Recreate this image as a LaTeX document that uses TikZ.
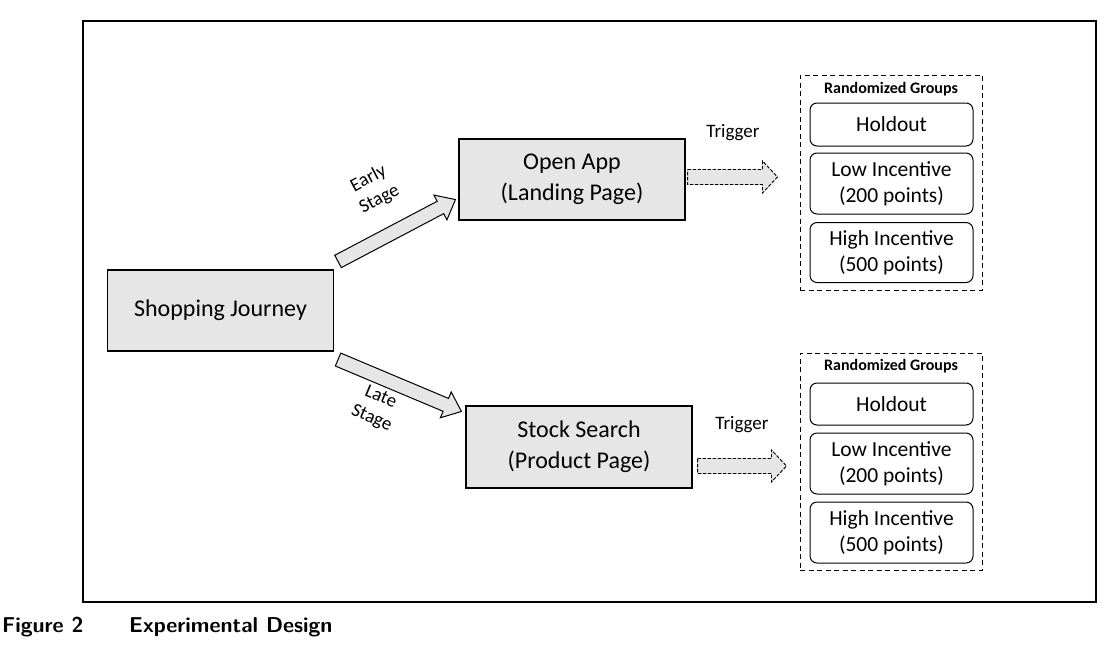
\documentclass[tikz,border=0pt]{standalone}
\usepackage{fontspec}
\setmainfont{Carlito}
\usetikzlibrary{calc}
\definecolor{boxgray}{RGB}{230,230,230}
\newcommand\fatarrow[6][]{%
  \coordinate (fa-b) at ($(#3)!#6!(#2)$);
  \draw[#1] ($(#2)!#4!90:(#3)$) -- ($(fa-b)!#4!90:(#3)$) -- ($(fa-b)!#5!90:(#3)$) -- (#3)
    -- ($(fa-b)!#5!-90:(#3)$) -- ($(fa-b)!#4!-90:(#3)$) -- ($(#2)!#4!-90:(#3)$) -- cycle;
}
\begin{document}
\begin{tikzpicture}[x=1pt,y=-1pt,
  box/.style={draw, line width=1.1pt, fill=boxgray, align=center, inner sep=0pt,
    minimum width=226pt, minimum height=81pt, font=\fontsize{24}{31}\selectfont},
  grp/.style={draw, line width=1pt, rounded corners=7pt, align=center, inner sep=0pt,
    minimum width=163pt, font=\fontsize{21.5}{26}\selectfont},
  grpframe/.style={draw, dash pattern=on 5pt off 3.5pt, line width=1pt,
    minimum width=182pt, inner sep=0pt},
  grphead/.style={font=\fontsize{16}{18}\selectfont\bfseries, inner sep=0pt},
  fat/.style={draw, line width=1pt, fill=boxgray, line join=miter},
  trig/.style={draw, line width=0.9pt, dash pattern=on 3.5pt off 1.5pt, fill=boxgray},
  lbl/.style={align=center, inner sep=0pt, font=\fontsize{19}{23}\selectfont},
  captxt/.style={anchor=base west, inner sep=0pt, font=\sffamily\bfseries\fontsize{21.5}{24}\selectfont}
]
\useasboundingbox (0,0) rectangle (1111,648);
% outer frame
\draw[line width=1.2pt] (83,21) rectangle (1096,602);

% main boxes
\node[box] (sj) at (220.5,310.5) {Shopping Journey};
\node[box] (oa) at (572,179.5) {Open App\\(Landing Page)};
\node[box, minimum height=82pt] (ss) at (579,447) {Stock Search\\(Product Page)};

% stage arrows
\fatarrow[fat]{$(sj.north east)+(4,-8)$}{$(oa.south west)+(-3,-21)$}{7pt}{14pt}{17pt}
\fatarrow[fat]{$(sj.south east)+(4,8)$}{$(ss.north west)+(-4,6)$}{7pt}{14pt}{17pt}
\node[lbl, rotate=28] (early) at (374,189) {Early\\Stage};
\node[lbl, rotate=-23] (late) at (376,408) {Late\\Stage};

% top groups
\node[grpframe, minimum height=215pt] (g1) at (891,182.5) {};
\node[grphead] (h1) at (891,89) {Randomized Groups};
\node[grp, minimum height=43pt] (a1) at (891.5,124.5) {Holdout};
\node[grp, minimum height=61pt] (b1) at (891.5,183.5) {Low Incentive\\(200 points)};
\node[grp, minimum height=60pt] (c1) at (891.5,252.5) {High Incentive\\(500 points)};

% bottom groups
\node[grpframe, minimum height=217pt] (g2) at (891,461.5) {};
\node[grphead] (h2) at (891,366) {Randomized Groups};
\node[grp, minimum height=42pt] (a2) at (891.5,404) {Holdout};
\node[grp, minimum height=61pt] (b2) at (891.5,463.5) {Low Incentive\\(200 points)};
\node[grp, minimum height=61pt] (c2) at (891.5,532.5) {High Incentive\\(500 points)};

% triggers
\coordinate (t1s) at ($(oa.east)+(2,-2.5)$);
\coordinate (t1e) at ($(g1.west)+(-22,-5.5)$);
\fatarrow[trig]{t1s}{t1e}{7.5pt}{16pt}{15pt}
\node[lbl] (tr1) at (733,133) {Trigger};
\coordinate (t2s) at ($(ss.east)+(5,19)$);
\coordinate (t2e) at ($(g2.west)+(-13,4.5)$);
\fatarrow[trig]{t2s}{t2e}{7.5pt}{16pt}{15pt}
\node[lbl] (tr2) at (742,425) {Trigger};

% caption
\node[captxt] (fig) at (2,632) {Figure 2};
\node[captxt] (title) at (129,632) {Experimental Design};
\end{tikzpicture}
\end{document}
